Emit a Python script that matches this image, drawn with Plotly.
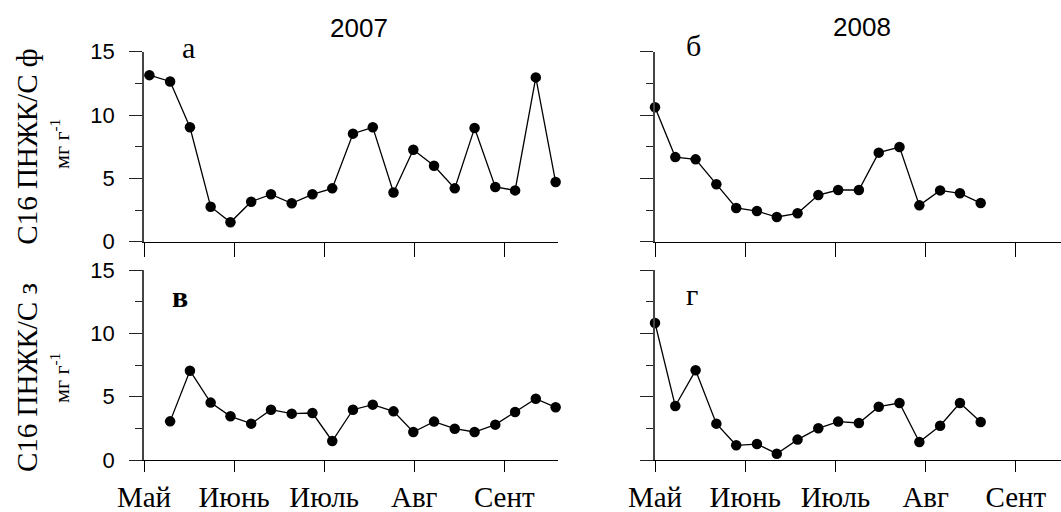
import plotly.graph_objects as go

# ---- data (x in month units: 0 = start of May) ----
months = ["Май", "Июнь", "Июль", "Авг", "Сент"]
month_pos = [0, 1, 2, 3, 4]

x2007 = [0.06, 0.29, 0.51, 0.74, 0.96, 1.19, 1.41, 1.64, 1.87, 2.09, 2.32,
         2.54, 2.77, 2.99, 3.22, 3.45, 3.67, 3.90, 4.12, 4.35, 4.57]
phyto2007 = [13.15, 12.65, 9.03, 2.76, 1.53, 3.16, 3.74, 3.03, 3.74, 4.21, 8.53,
             9.03, 3.89, 7.26, 6.0, 4.21, 8.97, 4.32, 4.05, 12.97, 4.71]

x2007z = [0.29, 0.51, 0.74, 0.96, 1.19, 1.41, 1.64, 1.87, 2.09, 2.32,
          2.54, 2.77, 2.99, 3.22, 3.45, 3.67, 3.90, 4.12, 4.35, 4.57]
zoo2007 = [3.05, 7.05, 4.53, 3.45, 2.87, 3.97, 3.66, 3.71, 1.5, 3.97,
           4.37, 3.84, 2.21, 3.03, 2.47, 2.21, 2.79, 3.79, 4.84, 4.16]

x2008 = [0.0, 0.225, 0.45, 0.68, 0.90, 1.13, 1.35, 1.58, 1.81, 2.03, 2.26,
         2.48, 2.71, 2.93, 3.16, 3.38, 3.61]
phyto2008 = [10.61, 6.68, 6.5, 4.53, 2.66, 2.42, 1.95, 2.24, 3.68, 4.08, 4.08,
             7.03, 7.47, 2.87, 4.05, 3.82, 3.05]
zoo2008 = [10.82, 4.26, 7.08, 2.87, 1.16, 1.26, 0.5, 1.61, 2.5, 3.03, 2.92,
           4.21, 4.5, 1.42, 2.71, 4.5, 3.0]

years = ["2007", "2008"]
panel_letters = ["а", "б", "<b>в</b>", "г"]
ylab_top = "С16 ПНЖК/С ф"
ylab_bot = "С16 ПНЖК/С з"
yunit = "мг г<sup>-1</sup>"

W, H = 1061, 512
def px(x):
    return x / W
def py(y):
    return 1 - y / H

SERIF = "Liberation Serif, Times New Roman, serif"
SANS = "Liberation Sans, Arial, sans-serif"

fig = go.Figure()
line = dict(color="black", width=1.3)
marker = dict(color="black", size=10.5)

def add(x, y, xa, ya):
    fig.add_trace(go.Scatter(x=x, y=y, mode="lines+markers", line=line, marker=marker,
                             xaxis=xa, yaxis=ya, cliponaxis=False, showlegend=False))

add(x2007, phyto2007, "x3", "y3")
add(x2008, phyto2008, "x4", "y4")
add(x2007z, zoo2007, "x", "y")
add(x2008, zoo2008, "x2", "y2")

xl = [px(144), px(557.7)]
xr = [px(655), 1.0]
yt = [py(241.7), py(51.7)]
yb = [py(460), py(270)]

def xax(domain, anchor, rng, labels, tlen):
    d = dict(domain=domain, anchor=anchor, range=rng, showgrid=False, zeroline=False,
             automargin=False,
             showline=True, linecolor="black", linewidth=1.3,
             ticks="outside", ticklen=tlen, tickwidth=1.3, tickcolor="black",
             tickvals=month_pos, ticktext=months, showticklabels=labels,
             tickfont=dict(family=SERIF, size=29, color="black"))
    return d

def yax(domain, anchor, labels):
    return dict(domain=domain, anchor=anchor, range=[0, 15], showgrid=False, zeroline=False,
                automargin=False,
                showline=True, linecolor="#444", linewidth=1.5,
                ticks="outside", ticklen=13, tickwidth=1.3, tickcolor="#222",
                tickvals=[0, 5, 10, 15], showticklabels=labels,
                tickfont=dict(family=SANS, size=22, color="black"),
                ticklabelstandoff=10,
                minor=dict(dtick=2.5, ticks="outside", ticklen=7, tickwidth=1.3, tickcolor="#222"))

fig.update_layout(
    width=W, height=H, margin=dict(l=0, r=0, t=0, b=0),
    paper_bgcolor="white", plot_bgcolor="white",
    xaxis=xax(xl, "y", [0, 4.593], True, 11),
    yaxis=yax(yb, "x", True),
    xaxis2=xax(xr, "y2", [0, 4.5], True, 11),
    yaxis2=yax(yb, "x2", False),
    xaxis3=xax(xl, "y3", [0, 4.593], False, 14),
    yaxis3=yax(yt, "x3", True),
    xaxis4=xax(xr, "y4", [0, 4.5], False, 14),
    yaxis4=yax(yt, "x4", False),
)

ann = []
# year titles
ann.append(dict(x=px(359), y=py(27.5), text=years[0], font=dict(family=SANS, size=26, color="black")))
ann.append(dict(x=px(862), y=py(27), text=years[1], font=dict(family=SANS, size=26, color="black")))
# panel letters
for (lx, ly), t in zip([(188, 47), (693, 45), (180, 296), (692, 294)], panel_letters):
    ann.append(dict(x=px(lx), y=py(ly), text=t, font=dict(family=SERIF, size=30, color="black")))
# y labels
ann.append(dict(x=px(27), y=py(146.7), text=ylab_top, textangle=-90,
                font=dict(family=SERIF, size=29, color="black")))
ann.append(dict(x=px(60), y=py(144), text=yunit, textangle=-90,
                font=dict(family=SERIF, size=22, color="black")))
ann.append(dict(x=px(27), y=py(378), text=ylab_bot, textangle=-90,
                font=dict(family=SERIF, size=29, color="black")))
ann.append(dict(x=px(60), y=py(378), text=yunit, textangle=-90,
                font=dict(family=SERIF, size=22, color="black")))
for a in ann:
    a.update(xref="paper", yref="paper", showarrow=False, xanchor="center", yanchor="middle")
fig.update_layout(annotations=ann)

fig.write_html("out.html")
